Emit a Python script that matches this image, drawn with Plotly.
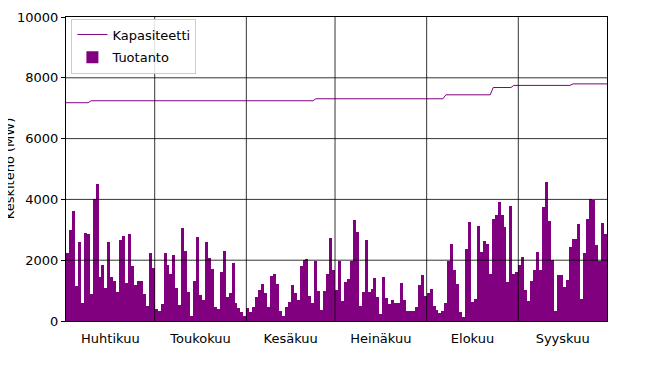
import plotly.graph_objects as go

# ---- data ----
month_names = ["Huhtikuu", "Toukokuu", "Kesäkuu", "Heinäkuu", "Elokuu", "Syyskuu"]
month_days = [30, 31, 30, 31, 31, 30]

apr = [2250, 3000, 3630, 1150, 2600, 600, 2900, 2850, 900, 4000, 4500, 1450, 1850, 1100, 2600,
       1450, 1300, 950, 2650, 2800, 1250, 2850, 1800, 1200, 1300, 1300, 900, 500, 2250, 1750]
may = [400, 340, 570, 2240, 1850, 1530, 2170, 1100, 540, 3070, 2300, 940, 160, 1320, 2770, 860,
       700, 2590, 2070, 1700, 450, 390, 1620, 2300, 780, 920, 1900, 590, 430, 300, 150]
jun = [420, 300, 470, 800, 1020, 1230, 930, 470, 1480, 1530, 1210, 340, 175, 470, 610,
       1180, 930, 700, 1800, 2000, 2050, 820, 580, 1980, 980, 360, 990, 1540, 2720, 1670]
jul = [1030, 1980, 670, 1280, 1390, 1980, 3320, 2920, 480, 950, 2670, 950, 1060, 1410, 790, 220,
       1440, 750, 560, 690, 600, 600, 1250, 700, 340, 340, 320, 450, 1200, 1520, 830]
aug = [920, 1060, 500, 370, 260, 320, 590, 1980, 2520, 1680, 1230, 300, 120, 2370, 3270, 610,
       730, 3140, 2260, 2640, 2540, 1540, 3360, 3490, 3920, 3490, 3080, 1270, 3790, 1540, 1600]
sep = [1850, 2120, 1030, 670, 1320, 1680, 2280, 1680, 3740, 4560, 3290, 2010, 320, 1500, 1520,
       1120, 1360, 2430, 2700, 2700, 3180, 730, 2240, 3360, 4010, 3980, 2500, 1980, 3210, 2850]

# capacity: (number of days, MW) runs
cap_run_days = [8, 76, 44, 16, 7, 20, 12]
cap_run_values = [7180, 7245, 7310, 7440, 7680, 7750, 7800]

y_ticks = [0, 2000, 4000, 6000, 8000, 10000]
y_tick_text = ["0", "2000", "4000", "6000", "8000", "10000"]

# ---- build ----
production = apr + may + jun + jul + aug + sep
n_days = sum(month_days)
production = production[:n_days]
capacity = []
for d, v in zip(cap_run_days, cap_run_values):
    capacity += [v] * d
capacity = (capacity + [capacity[-1]] * n_days)[:n_days]

day_x = [i + 0.5 for i in range(n_days)]
bounds = []
acc = 0
mids = []
for m in month_days:
    mids.append(acc + m / 2)
    acc += m
    bounds.append(acc)
inner_bounds = bounds[:-1]

purple = "#800080"
fig = go.Figure()
fig.add_trace(go.Scatter(x=[0] + day_x[1:-1] + [n_days], y=capacity, mode="lines",
                         name="Kapasiteetti", legendgroup="a",
                         line=dict(color=purple, width=1)))
fig.add_trace(go.Bar(x=day_x, y=production, width=1, name="Tuotanto", legendgroup="b",
                     marker=dict(color=purple, line=dict(width=0))))

shapes = []
for b in inner_bounds:
    shapes.append(dict(type="line", xref="x", yref="paper", x0=b, x1=b, y0=0, y1=1,
                       line=dict(color="black", width=0.8), layer="above"))
for t in y_ticks[1:-1]:
    shapes.append(dict(type="line", xref="paper", yref="y", x0=0, x1=1, y0=t, y1=t,
                       line=dict(color="black", width=0.8), layer="above"))

font = dict(family="DejaVu Sans", size=13, color="black")
fig.update_layout(
    width=672, height=365,
    margin=dict(l=58, r=73, t=9, b=52),
    paper_bgcolor="white", plot_bgcolor="white",
    font=font, bargap=0, shapes=shapes,
    showlegend=True,
    legend=dict(x=0.01, y=0.995, xanchor="left", yanchor="top",
                bgcolor="rgba(255,255,255,0.85)", bordercolor="#cccccc", borderwidth=1,
                font=font, traceorder="grouped", itemwidth=30, tracegroupgap=3),
    xaxis=dict(range=[0, n_days], tickmode="array", tickvals=mids, ticktext=month_names,
               ticks="", showgrid=False, zeroline=False, showline=True, mirror=True,
               linecolor="black", linewidth=1, ticklabelstandoff=5, automargin=False),
    yaxis=dict(range=[0, 10000], tickmode="array", tickvals=y_ticks, ticktext=y_tick_text,
               ticks="outside", ticklen=4, tickcolor="black", showgrid=False, zeroline=False,
               showline=True, mirror=True, linecolor="black", linewidth=1, automargin=False),
    annotations=[dict(text="Keskiteho (MW)", xref="paper", yref="paper",
                      x=-0.105, y=0.5, xanchor="center", yanchor="middle",
                      textangle=-90, showarrow=False, font=font)],
)
fig.write_html("out.html")
